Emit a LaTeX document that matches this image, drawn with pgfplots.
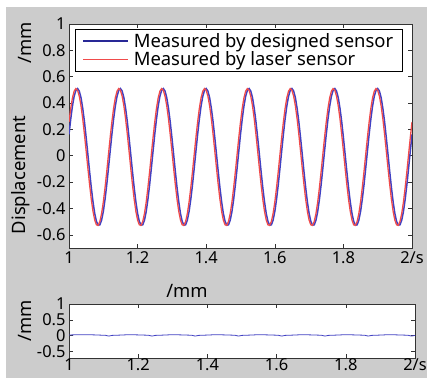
\documentclass[border=0pt]{standalone}
\usepackage{pgfplots}
\pgfplotsset{compat=1.18}
\usepackage{pgfplotstable}
\usepackage{fontspec}
\setmainfont{Noto Sans}
\definecolor{bgray}{RGB}{204,204,204}
\definecolor{myblue}{RGB}{65,65,195}
\definecolor{myred}{RGB}{240,75,75}
\definecolor{legblue}{RGB}{40,40,150}
\pgfplotstableread{
x r b
1.000 0.256 0.162
1.005 0.359 0.278
1.010 0.439 0.377
1.015 0.490 0.451
1.020 0.510 0.496
1.025 0.497 0.510
1.030 0.452 0.491
1.035 0.379 0.440
1.040 0.281 0.361
1.045 0.164 0.259
1.050 0.037 0.139
1.055 -0.093 0.011
1.060 -0.218 -0.119
1.065 -0.330 -0.242
1.070 -0.422 -0.350
1.075 -0.488 -0.438
1.080 -0.524 -0.498
1.085 -0.528 -0.527
1.090 -0.499 -0.524
1.095 -0.439 -0.489
1.100 -0.353 -0.424
1.105 -0.244 -0.332
1.110 -0.122 -0.221
1.115 0.008 -0.096
1.120 0.137 0.034
1.125 0.256 0.162
1.130 0.359 0.278
1.135 0.439 0.377
1.140 0.490 0.451
1.145 0.510 0.496
1.150 0.497 0.510
1.155 0.452 0.491
1.160 0.379 0.440
1.165 0.281 0.361
1.170 0.164 0.259
1.175 0.037 0.139
1.180 -0.093 0.011
1.185 -0.218 -0.119
1.190 -0.330 -0.242
1.195 -0.422 -0.350
1.200 -0.488 -0.438
1.205 -0.524 -0.498
1.210 -0.528 -0.527
1.215 -0.499 -0.524
1.220 -0.439 -0.489
1.225 -0.353 -0.424
1.230 -0.244 -0.332
1.235 -0.122 -0.221
1.240 0.008 -0.096
1.245 0.137 0.034
1.250 0.256 0.162
1.255 0.359 0.278
1.260 0.439 0.377
1.265 0.490 0.451
1.270 0.510 0.496
1.275 0.497 0.510
1.280 0.452 0.491
1.285 0.379 0.440
1.290 0.281 0.361
1.295 0.164 0.259
1.300 0.037 0.139
1.305 -0.093 0.011
1.310 -0.218 -0.119
1.315 -0.330 -0.242
1.320 -0.422 -0.350
1.325 -0.488 -0.438
1.330 -0.524 -0.498
1.335 -0.528 -0.527
1.340 -0.499 -0.524
1.345 -0.439 -0.489
1.350 -0.353 -0.424
1.355 -0.244 -0.332
1.360 -0.122 -0.221
1.365 0.008 -0.096
1.370 0.137 0.034
1.375 0.256 0.162
1.380 0.359 0.278
1.385 0.439 0.377
1.390 0.490 0.451
1.395 0.510 0.496
1.400 0.497 0.510
1.405 0.452 0.491
1.410 0.379 0.440
1.415 0.281 0.361
1.420 0.164 0.259
1.425 0.037 0.139
1.430 -0.093 0.011
1.435 -0.218 -0.119
1.440 -0.330 -0.242
1.445 -0.422 -0.350
1.450 -0.488 -0.438
1.455 -0.524 -0.498
1.460 -0.528 -0.527
1.465 -0.499 -0.524
1.470 -0.439 -0.489
1.475 -0.353 -0.424
1.480 -0.244 -0.332
1.485 -0.122 -0.221
1.490 0.008 -0.096
1.495 0.137 0.034
1.500 0.256 0.162
1.505 0.359 0.278
1.510 0.439 0.377
1.515 0.490 0.451
1.520 0.510 0.496
1.525 0.497 0.510
1.530 0.452 0.491
1.535 0.379 0.440
1.540 0.281 0.361
1.545 0.164 0.259
1.550 0.037 0.139
1.555 -0.093 0.011
1.560 -0.218 -0.119
1.565 -0.330 -0.242
1.570 -0.422 -0.350
1.575 -0.488 -0.438
1.580 -0.524 -0.498
1.585 -0.528 -0.527
1.590 -0.499 -0.524
1.595 -0.439 -0.489
1.600 -0.353 -0.424
1.605 -0.244 -0.332
1.610 -0.122 -0.221
1.615 0.008 -0.096
1.620 0.137 0.034
1.625 0.256 0.162
1.630 0.359 0.278
1.635 0.439 0.377
1.640 0.490 0.451
1.645 0.510 0.496
1.650 0.497 0.510
1.655 0.452 0.491
1.660 0.379 0.440
1.665 0.281 0.361
1.670 0.164 0.259
1.675 0.037 0.139
1.680 -0.093 0.011
1.685 -0.218 -0.119
1.690 -0.330 -0.242
1.695 -0.422 -0.350
1.700 -0.488 -0.438
1.705 -0.524 -0.498
1.710 -0.528 -0.527
1.715 -0.499 -0.524
1.720 -0.439 -0.489
1.725 -0.353 -0.424
1.730 -0.244 -0.332
1.735 -0.122 -0.221
1.740 0.008 -0.096
1.745 0.137 0.034
1.750 0.256 0.162
1.755 0.359 0.278
1.760 0.439 0.377
1.765 0.490 0.451
1.770 0.510 0.496
1.775 0.497 0.510
1.780 0.452 0.491
1.785 0.379 0.440
1.790 0.281 0.361
1.795 0.164 0.259
1.800 0.037 0.139
1.805 -0.093 0.011
1.810 -0.218 -0.119
1.815 -0.330 -0.242
1.820 -0.422 -0.350
1.825 -0.488 -0.438
1.830 -0.524 -0.498
1.835 -0.528 -0.527
1.840 -0.499 -0.524
1.845 -0.439 -0.489
1.850 -0.353 -0.424
1.855 -0.244 -0.332
1.860 -0.122 -0.221
1.865 0.008 -0.096
1.870 0.137 0.034
1.875 0.256 0.162
1.880 0.359 0.278
1.885 0.439 0.377
1.890 0.490 0.451
1.895 0.510 0.496
1.900 0.497 0.510
1.905 0.452 0.491
1.910 0.379 0.440
1.915 0.281 0.361
1.920 0.164 0.259
1.925 0.037 0.139
1.930 -0.093 0.011
1.935 -0.218 -0.119
1.940 -0.330 -0.242
1.945 -0.422 -0.350
1.950 -0.488 -0.438
1.955 -0.524 -0.498
1.960 -0.528 -0.527
1.965 -0.499 -0.524
1.970 -0.439 -0.489
1.975 -0.353 -0.424
1.980 -0.244 -0.332
1.985 -0.122 -0.221
1.990 0.008 -0.096
1.995 0.137 0.034
2.000 0.256 0.162
}\wave
\pgfplotstableread{
x d
1.000 0.025
1.025 0.032
1.050 0.035
1.075 0.027
1.095 0.018
1.105 0.015
1.115 -0.010
1.125 0.012
1.150 0.022
1.175 0.035
1.200 0.027
1.225 0.018
1.230 0.015
1.240 -0.010
1.250 0.012
1.275 0.022
1.300 0.035
1.325 0.027
1.350 0.018
1.355 0.015
1.365 -0.010
1.375 0.012
1.400 0.022
1.425 0.035
1.450 0.027
1.475 0.018
1.480 0.015
1.490 -0.010
1.500 0.012
1.525 0.022
1.550 0.035
1.575 0.027
1.600 0.018
1.605 0.015
1.615 -0.010
1.625 0.012
1.650 0.022
1.675 0.035
1.700 0.027
1.725 0.018
1.730 0.015
1.740 -0.010
1.750 0.012
1.775 0.022
1.800 0.035
1.825 0.027
1.850 0.018
1.855 0.015
1.865 -0.010
1.875 0.012
1.900 0.022
1.925 0.035
1.950 0.027
1.975 0.018
1.980 0.015
1.990 -0.010
2.000 0.012
}\diffdata
\begin{document}
\begin{tikzpicture}
\useasboundingbox (0,0) rectangle (429bp,378bp);
\fill[white] (0,0) rectangle (429bp,378bp);
\fill[bgray] (6bp,0) rectangle (427bp,371bp);
\pgfplotsset{
  mystyle/.style={
    scale only axis,
    axis background/.style={fill=white},
    axis line style={black!80, line width=0.8bp},
    tick style={black!80, line width=0.6bp},
    major tick length=4bp,
    tick align=inside,
    xmin=1, xmax=2,
    xtick={1,1.2,1.4,1.6,1.8,2},
    xticklabels={1,1.2,1.4,1.6,1.8,2/s},
    tick label style={font=\fontsize{16.5}{16.5}\selectfont},
    /pgf/number format/assume math mode=true,
  }
}
\begin{axis}[mystyle,
  at={(69bp,130bp)}, anchor=south west,
  width=343bp, height=224bp,
  ymin=-0.7, ymax=1,
  ytick={-0.6,-0.4,-0.2,0,0.2,0.4,0.6,0.8,1},
  yticklabels={-0.6,-0.4,-0.2,0,0.2,0.4,0.6,0.8,1},
  legend style={at={(0.0175,0.978)}, anchor=north west, draw=black,
    line width=0.8bp, font=\fontsize{18.5}{18.5}\selectfont,
    inner xsep=7bp, inner ysep=2bp, row sep=-1bp, fill=white},
  legend cell align=left,
  legend image code/.code={\draw[#1] (0bp,0bp) -- (45bp,0bp); \path (48bp,0bp);},
]
\addplot[myblue, line width=1.5bp, forget plot] table[x=x, y=b] {\wave};
\addplot[myred, line width=1.3bp, forget plot] table[x=x, y=r] {\wave};
\addlegendimage{legblue, line width=1.4bp}
\addlegendentry{Measured by designed sensor}
\addlegendimage{myred, line width=1.2bp}
\addlegendentry{Measured by laser sensor}
\end{axis}
\begin{axis}[mystyle,
  at={(69bp,20bp)}, anchor=south west,
  width=346bp, height=54bp,
  ymin=-0.7, ymax=1,
  ytick={-0.5,0,0.5,1},
  yticklabels={-0.5,0,0.5,1},
  xticklabel style={yshift=3bp},
]
\addplot[myblue, line width=0.8bp] table[x=x, y=d] {\diffdata};
\end{axis}
\node[rotate=90, font=\fontsize{18.5}{18.5}\selectfont] at (21bp,203bp) {Displacement};
\node[rotate=90, font=\fontsize{18.5}{18.5}\selectfont] at (25bp,335bp) {/mm};
\node[rotate=90, font=\fontsize{18.5}{18.5}\selectfont] at (25bp,57bp) {/mm};
\node[font=\fontsize{18.5}{18.5}\selectfont] at (187bp,87bp) {/mm};
\end{tikzpicture}
\end{document}
